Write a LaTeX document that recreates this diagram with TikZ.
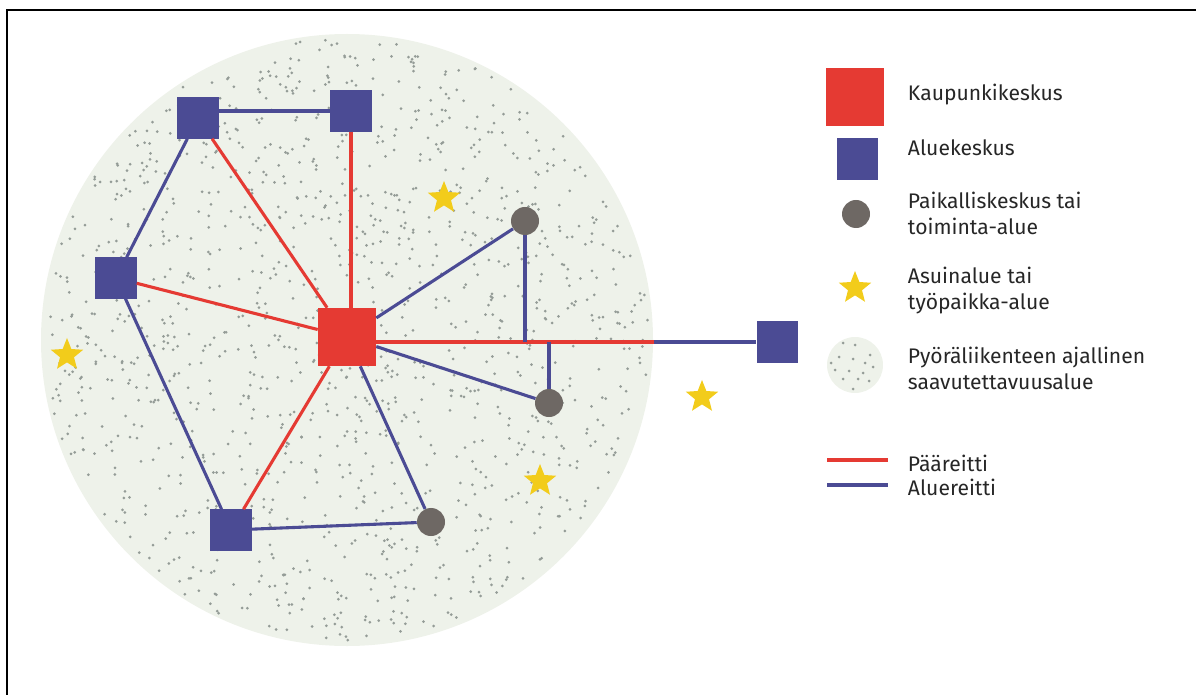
\documentclass[tikz,border=0pt]{standalone}
\usepackage{fontspec}
\setmainfont{Fira Sans}
\usetikzlibrary{shapes.geometric}

\definecolor{routered}{HTML}{E53A33}
\definecolor{routeblue}{HTML}{4B4B94}
\definecolor{localgrey}{HTML}{6E6864}
\definecolor{staryellow}{HTML}{F2CC1B}
\definecolor{reachfill}{HTML}{EEF2EA}
\definecolor{dotgrey}{HTML}{949C97}

\tikzset{
  hubbox/.style={fill=routered, minimum size=1.45cm, inner sep=0pt},
  areabox/.style={fill=routeblue, minimum size=1.025cm, inner sep=0pt},
  localdot/.style={circle, fill=localgrey, minimum size=0.7cm, inner sep=0pt},
  homestar/.style={star, star points=5, star point ratio=2.3, fill=staryellow, minimum size=0.85cm, inner sep=0pt},
  mainroute/.style={routered, line width=2.2pt},
  arearoute/.style={routeblue, line width=2.2pt},
  keytext/.style={anchor=west, align=left, font=\fontsize{15}{18.5}\selectfont, text=black!85}
}

\begin{document}
\begin{tikzpicture}[x=0.025cm, y=-0.025cm]
\useasboundingbox (0,0) rectangle (1196,695);

% frame
\draw[line width=1.6pt] (7,695) -- (7,10) -- (1196,10);

% reach area with dots
\coordinate (ctr) at (347,340);
\fill[reachfill] (ctr) circle (306);
\pgfmathsetseed{4711}
\foreach \i in {1,...,1300} {
  \pgfmathsetmacro\rr{sqrt(rnd)*302}
  \pgfmathsetmacro\aa{360*rnd}
  \fill[dotgrey] (ctr) ++(\aa:\rr) circle (1.5);
}

% centres
\node[hubbox] (hub) at (347,337) {};
\node[areabox] (nw) at (198,118) {};
\node[areabox] (n) at (351,111) {};
\node[areabox] (w) at (116,278) {};
\node[areabox] (sw) at (231,530) {};
\node[areabox] (e) at (777,342) {};
\node[localdot] (ne) at (525,221) {};
\node[localdot] (se) at (549,403) {};
\node[localdot] (s) at (431,522) {};
\coordinate (rim) at (654,342);

% homes and workplaces
\node[homestar] (st1) at (444,198) {};
\node[homestar] (st2) at (67,355) {};
\node[homestar] (st3) at (702,397) {};
\node[homestar] (st4) at (540,481) {};

% main routes
\draw[mainroute] (hub) -- (nw);
\draw[mainroute] (hub.north -| n) -- (n);
\draw[mainroute] (hub) -- (w);
\draw[mainroute] (hub) -- (sw);
\draw[mainroute] (hub.east |- rim) -- (rim);

% area routes
\draw[arearoute] (rim) -- (e);
\draw[arearoute] (nw.east |- n) -- (n);
\draw[arearoute] (nw) -- (w);
\draw[arearoute] (w) -- (sw);
\draw[arearoute] (sw) -- (s);
\draw[arearoute] (hub) -- (s);
\draw[arearoute] (hub) -- (ne);
\draw[arearoute] (hub) -- (se);
\draw[arearoute] (ne) -- (ne |- rim);
\draw[arearoute] (se) -- (se |- rim);

% legend
\node[hubbox] (keyhub) at (855,97) {};
\node[areabox] (keyarea) at (857,159) {};
\node[localdot] (keylocal) at (856,214) {};
\node[homestar] (keystar) at (855,288) {};
\coordinate (keyreach) at (855,365);
\fill[reachfill] (keyreach) circle (28);
\foreach \dx/\dy in {-12/-22,0/-20,-16/-8,-2/-6,15/-10,18/2,-20/5,-6/6,8/8,-12/14,3/14,14/16,-2/24,-24/-2,10/-2} {
  \fill[dotgrey] (keyreach) ++(\dx,\dy) circle (1.5);
}
\coordinate (keymain1) at (827,460);
\coordinate (keymain2) at (888,460);
\coordinate (keyside1) at (827,485);
\coordinate (keyside2) at (888,485);
\draw[mainroute] (keymain1) -- (keymain2);
\draw[arearoute] (keyside1) -- (keyside2);

\node[keytext] (lhub) at (903,95) {Kaupunkikeskus};
\node[keytext] (larea) at (903,148) {Aluekeskus};
\node[keytext] (llocal) at (903,213) {Paikalliskeskus tai\\toiminta-alue};
\node[keytext] (lstar) at (903,291) {Asuinalue tai\\työpaikka-alue};
\node[keytext] (lreach) at (903,368) {Pyöräliikenteen ajallinen\\saavutettavuusalue};
\node[keytext] (lmain) at (903,463) {Pääreitti};
\node[keytext] (lside) at (903,487) {Aluereitti};
\end{tikzpicture}
\end{document}
